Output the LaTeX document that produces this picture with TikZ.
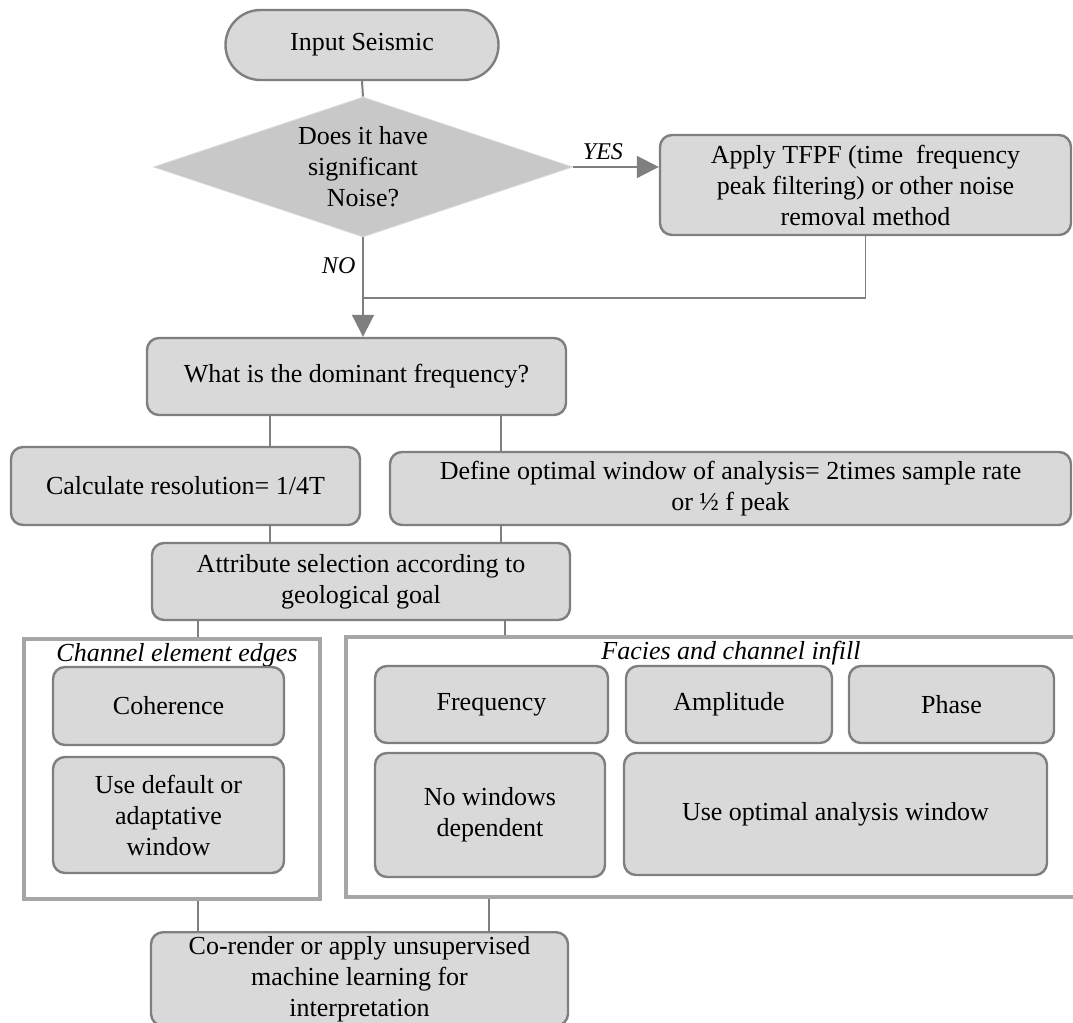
\documentclass[tikz,border=0pt]{standalone}
\usepackage{fontspec}
\setmainfont{Liberation Serif}
\usetikzlibrary{shapes.geometric,shapes.misc,arrows.meta}
\definecolor{boxfill}{HTML}{D9D9D9}
\definecolor{boxline}{HTML}{7F7F7F}
\definecolor{grpline}{HTML}{A6A6A6}
\definecolor{decfill}{HTML}{C8C8C8}
\begin{document}
\begin{tikzpicture}[
  x=0.5pt, y=-0.5pt,
  font=\fontsize{13}{15.5}\selectfont,
  box/.style={draw=boxline, fill=boxfill, line width=1.2pt, rounded corners=6pt,
    align=center, inner sep=2pt},
  term/.style={draw=boxline, fill=boxfill, line width=1.2pt, rounded rectangle,
    align=center, inner sep=2pt},
  decision/.style={diamond, fill=decfill, draw=gray!30, aspect=3, inner sep=0pt,
    align=center},
  group/.style={draw=grpline, line width=1.6pt, inner sep=0pt},
  grplabel/.style={font=\itshape\fontsize{13}{15}\selectfont},
  link/.style={draw=boxline, line width=1pt},
  flow/.style={link, -{Triangle[length=11pt,width=11pt]}},
  ans/.style={font=\itshape\fontsize{12}{14}\selectfont}
]
\useasboundingbox (0,0) rectangle (1073,1023);

\node[term, minimum width=140.5pt, minimum height=35pt] (start) at (362,45)
  {Input Seismic};
\node[decision, minimum width=209.5pt, minimum height=70pt] (dec) at (363,167)
  {Does it have\\ significant\\ Noise?};
\node[box, minimum width=205.5pt, minimum height=50pt] (tfpf) at (865.5,185)
  {Apply TFPF (time\ \ frequency\\ peak filtering) or other noise\\ removal method};
\node[box, minimum width=209.5pt, minimum height=38.5pt] (dom) at (356.5,376.5)
  {What is the dominant frequency?};
\node[box, minimum width=174.5pt, minimum height=39pt] (calc) at (185.5,486)
  {Calculate resolution= 1/4T};
\node[box, minimum width=340.5pt, minimum height=36.5pt] (win) at (730.5,488.5)
  {Define optimal window of analysis= 2times sample rate\\ or ½ f peak};
\node[box, minimum width=209pt, minimum height=38.5pt] (attr) at (361,581.5)
  {Attribute selection according to\\ geological goal};

% attribute groups
\node[group, minimum width=148pt, minimum height=130pt] (edges) at (172,769) {};
\node[group, minimum width=369.5pt, minimum height=130pt] (facies) at (715.5,767) {};
\node[grplabel] (edgeslbl) at (177,655) {Channel element edges};
\node[grplabel] (facieslbl) at (731,653) {Facies and channel infill};

\node[box, minimum width=115.5pt, minimum height=39pt] (coh) at (168.5,706)
  {Coherence};
\node[box, minimum width=115.5pt, minimum height=58pt] (adapt) at (168.5,815)
  {Use default or\\ adaptative\\ window};
\node[box, minimum width=116.5pt, minimum height=38.5pt] (freq) at (491.5,704.5)
  {Frequency};
\node[box, minimum width=103pt, minimum height=38.5pt] (ampl) at (729,704.5)
  {Amplitude};
\node[box, minimum width=102.5pt, minimum height=38.5pt] (phase) at (951.5,704.5)
  {Phase};
\node[box, minimum width=115pt, minimum height=62pt] (nowin) at (490,815)
  {No windows\\ dependent};
\node[box, minimum width=211.5pt, minimum height=61pt] (optwin) at (835.5,814)
  {Use optimal analysis window};

\node[box, minimum width=208.5pt, minimum height=46pt] (render) at (359.5,979)
  {Co-render or apply unsupervised\\ machine learning for\\ interpretation};

% where the plain links run
\coordinate (join) at (363,298);
\coordinate (xa) at (270,0);
\coordinate (xb) at (501,0);
\coordinate (xc) at (198,0);
\coordinate (xd) at (505,0);
\coordinate (xe) at (489,0);

\draw[link] (start.south) -- (dec.north);
\draw[flow] (dec.east) -- (dec.east -| tfpf.west)
  node[ans, pos=.35, above] {YES};
\draw[flow] (dec.south) -- (dec.south |- dom.north)
  node[ans, pos=.28, left] {NO};
\draw[link, line width=.6pt] (tfpf.south) |- (join);
\draw[link] (dom.south -| xa) -- (calc.north -| xa);
\draw[link] (dom.south -| xb) -- (win.north -| xb);
\draw[link] (calc.south -| xa) -- (attr.north -| xa);
\draw[link] (win.south -| xb) -- (attr.north -| xb);
\draw[link] (attr.south -| xc) -- (edges.north -| xc);
\draw[link] (attr.south -| xd) -- (facies.north -| xd);
\draw[link] (edges.south -| xc) -- (render.north -| xc);
\draw[link] (facies.south -| xe) -- (render.north -| xe);
\end{tikzpicture}
\end{document}
